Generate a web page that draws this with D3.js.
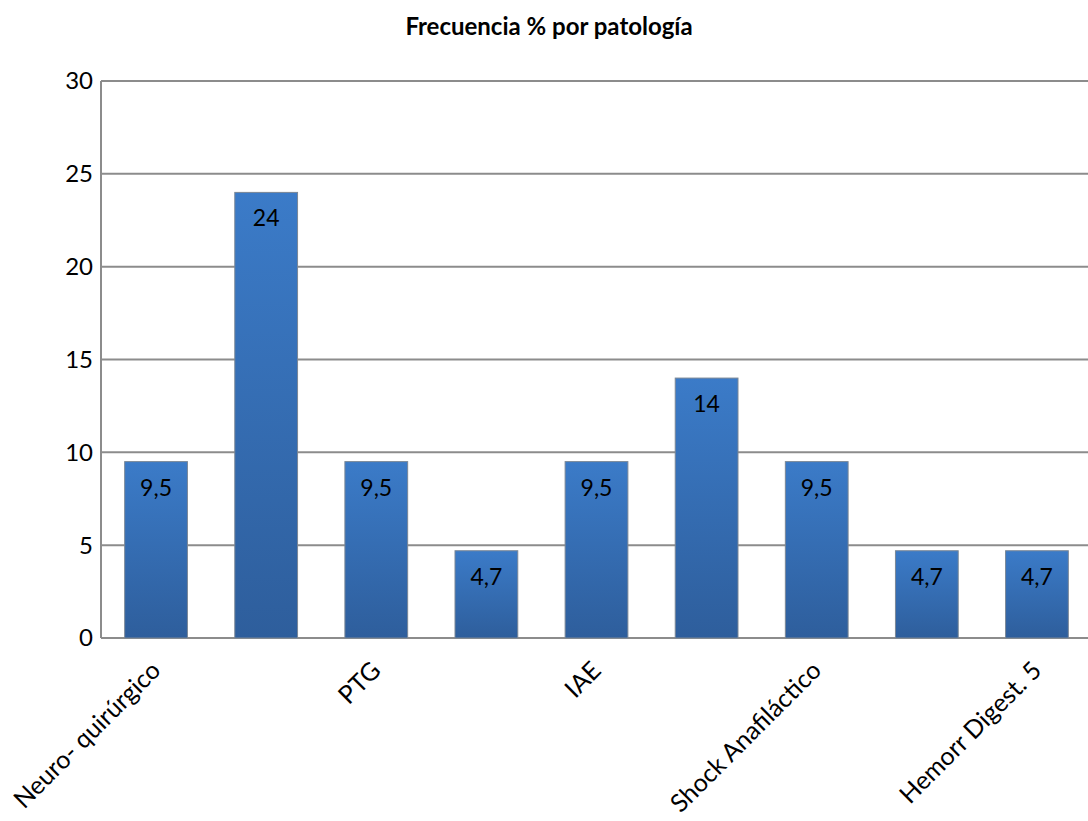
<!DOCTYPE html>
<meta charset="utf-8">
<style>
body { margin: 0; background: #fff; }
svg { font-family: Lato, "Open Sans", sans-serif; }
.grid line { stroke: #8c8c8c; stroke-width: 2; }
.bar { stroke: #7a8796; stroke-width: 1; }
</style>
<body>
<svg width="1088" height="821"></svg>
<script src="https://d3js.org/d3.v7.min.js"></script>
<script>

var categories = ["Neuro- quirúrgico", "Politrauma", "PTG", "Sepsis", "IAE", "ICC", "Shock Anafiláctico", "EPOC", "Hemorr Digest. 5"];
var values = [9.5, 24, 9.5, 4.7, 9.5, 14, 9.5, 4.7, 4.7];
var valueLabels = ["9,5", "24", "9,5", "4,7", "9,5", "14", "9,5", "4,7", "4,7"];
var shownLabels = ["Neuro- quirúrgico", "PTG", "IAE", "Shock Anafiláctico", "Hemorr Digest. 5"];
var yTicks = [0, 5, 10, 15, 20, 25, 30];

var svg = d3.select("svg"),
    plotLeft = 101, plotRight = 1092, plotTop = 81, plotBottom = 638;

var x = d3.scaleBand().domain(categories).range([plotLeft, plotRight])
    .paddingInner(0.43).paddingOuter(0.215);
var y = d3.scaleLinear().domain([0, 30]).range([plotBottom, plotTop]);

var grad = svg.append("defs").append("linearGradient")
    .attr("id", "barGrad").attr("x1", 0).attr("y1", 0).attr("x2", 0).attr("y2", 1);
grad.append("stop").attr("offset", "0%").attr("stop-color", "#3b7bc8");
grad.append("stop").attr("offset", "100%").attr("stop-color", "#2e5e9c");

svg.append("text")
    .attr("x", 549).attr("y", 35)
    .attr("text-anchor", "middle")
    .style("font-weight", "bold").style("font-size", "24px")
    .text("Frecuencia % por patología");

// gridlines
svg.append("g").attr("class", "grid")
  .selectAll("line").data(yTicks).enter().append("line")
    .attr("x1", plotLeft).attr("x2", 1088)
    .attr("y1", function(d) { return y(d); })
    .attr("y2", function(d) { return y(d); });

svg.append("line")
    .attr("x1", plotLeft).attr("x2", plotLeft).attr("y1", plotTop).attr("y2", plotBottom)
    .attr("stroke", "#8c8c8c").attr("stroke-width", 2);

// y tick labels
svg.append("g").selectAll("text").data(yTicks).enter().append("text")
    .attr("x", 93).attr("y", function(d) { return y(d); })
    .attr("dy", "0.35em")
    .attr("text-anchor", "end")
    .style("font-size", "24px")
    .text(function(d) { return d; });

svg.append("g").selectAll("rect").data(values).enter().append("rect")
    .attr("class", "bar")
    .attr("fill", "url(#barGrad)")
    .attr("x", function(d, i) { return x(categories[i]); })
    .attr("y", function(d) { return y(d); })
    .attr("width", x.bandwidth())
    .attr("height", function(d) { return plotBottom - y(d); });

svg.append("g").selectAll("text").data(values).enter().append("text")
    .attr("x", function(d, i) { return x(categories[i]) + x.bandwidth() / 2; })
    .attr("y", function(d) { return y(d) + 34; })
    .attr("text-anchor", "middle")
    .style("font-size", "23px")
    .text(function(d, i) { return valueLabels[i]; });

// rotated category labels
svg.append("g").selectAll("text").data(shownLabels).enter().append("text")
    .attr("text-anchor", "end")
    .style("font-size", "25px")
    .attr("transform", function(d) {
      var cx = x(d) + x.bandwidth() / 2 + 6;
      return "translate(" + cx + ",672) rotate(-45)";
    })
    .text(function(d) { return d; });

</script>
</body>
